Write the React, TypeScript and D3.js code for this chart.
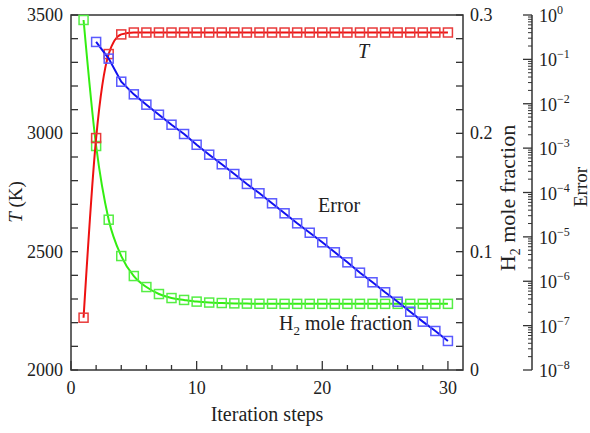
import React, { useEffect, useRef } from 'react';
import * as d3 from 'd3';

// values
const tempSteps = [1, 2, 3, 4, 5, 6, 7, 8, 9, 10, 11, 12, 13, 14, 15, 16, 17, 18, 19, 20, 21, 22, 23, 24, 25, 26, 27, 28, 29, 30];
const tempValues = [2221, 2980, 3335, 3418, 3426, 3426, 3426, 3426, 3426, 3426, 3426, 3426, 3426, 3426, 3426, 3426, 3426, 3426, 3426, 3426, 3426, 3426, 3426, 3426, 3426, 3426, 3426, 3426, 3426, 3426];
const h2Values = [0.2958, 0.1893, 0.127, 0.0963, 0.0794, 0.0701, 0.0642, 0.0608, 0.0592, 0.0578, 0.057, 0.0566, 0.0563, 0.0561, 0.056, 0.056, 0.0559, 0.0559, 0.0559, 0.0559, 0.0559, 0.0559, 0.0559, 0.0559, 0.0559, 0.0559, 0.0559, 0.0559, 0.0559, 0.0559];
const errorSteps = [2, 3, 4, 5, 6, 7, 8, 9, 10, 11, 12, 13, 14, 15, 16, 17, 18, 19, 20, 21, 22, 23, 24, 25, 26, 27, 28, 29, 30];
const errorValues = [2.47e-1, 1.04e-1, 3.14e-2, 1.63e-2, 9.53e-3, 5.66e-3, 3.37e-3, 2.08e-3, 1.19e-3, 7.11e-4, 4.32e-4, 2.61e-4, 1.56e-4, 9.6e-5, 5.71e-5, 3.4e-5, 2.02e-5, 1.24e-5, 7.55e-6, 4.49e-6, 2.67e-6, 1.56e-6, 9.48e-7, 5.64e-7, 3.46e-7, 2.06e-7, 1.23e-7, 7.57e-8, 4.51e-8];

const xTickLabels = [0, 10, 20, 30];
const tTickLabels = [2000, 2500, 3000, 3500];
const h2TickLabels = [0, 0.1, 0.2, 0.3];
const errorExponents = [0, -1, -2, -3, -4, -5, -6, -7, -8];

const FONT = "'Liberation Serif', 'Times New Roman', Times, 'DejaVu Serif', serif";

const App = () => {
  const svgRef = useRef<SVGSVGElement>(null);

  useEffect(() => {
    const svg = d3.select(svgRef.current);
    svg.selectAll('*').remove();

    const left = 71, right = 463, top = 15, bottom = 370;
    const errAxisX = 532;

    const x = d3.scaleLinear().domain([0, 31.2]).range([left, right]);
    const yT = d3.scaleLinear().domain([2000, 3500]).range([bottom, top]);
    const yH2 = d3.scaleLinear().domain([0, 0.3]).range([bottom, top]);
    const yErr = d3.scaleLog().domain([1e-8, 1]).range([bottom, top]);

    const axisColor = '#333';

    // frame
    svg.append('rect')
      .attr('x', left).attr('y', top)
      .attr('width', right - left).attr('height', bottom - top)
      .attr('fill', 'none').attr('stroke', axisColor).attr('stroke-width', 1.5);

    // x ticks (inward)
    d3.range(0, 31, 2).forEach((v) => {
      const major = v % 10 === 0;
      svg.append('line')
        .attr('x1', x(v)).attr('x2', x(v))
        .attr('y1', bottom).attr('y2', bottom - (major ? 9 : 5))
        .attr('stroke', axisColor).attr('stroke-width', 1.3);
    });
    xTickLabels.forEach((v) => {
      svg.append('text')
        .attr('x', x(v)).attr('y', 394)
        .attr('text-anchor', 'middle')
        .attr('font-family', FONT).attr('font-size', 18).attr('fill', '#222')
        .text(v);
    });

    // left T ticks
    d3.range(2000, 3501, 100).forEach((v) => {
      svg.append('line')
        .attr('x1', left).attr('x2', left + 7)
        .attr('y1', yT(v)).attr('y2', yT(v))
        .attr('stroke', axisColor).attr('stroke-width', 1.3);
    });
    tTickLabels.forEach((v) => {
      svg.append('text')
        .attr('x', 63).attr('y', yT(v) + 6)
        .attr('text-anchor', 'end')
        .attr('font-family', FONT).attr('font-size', 18).attr('fill', '#222')
        .text(v);
    });

    // right H2 ticks
    d3.range(0, 0.3001, 0.02).forEach((v) => {
      svg.append('line')
        .attr('x1', right).attr('x2', right - 7)
        .attr('y1', yH2(v)).attr('y2', yH2(v))
        .attr('stroke', axisColor).attr('stroke-width', 1.3);
    });
    h2TickLabels.forEach((v) => {
      svg.append('text')
        .attr('x', 470).attr('y', yH2(v) + 6)
        .attr('font-family', FONT).attr('font-size', 18).attr('fill', '#222')
        .text(v === 0 ? '0' : String(v));
    });

    // error log axis
    svg.append('line')
      .attr('x1', errAxisX).attr('x2', errAxisX)
      .attr('y1', top).attr('y2', bottom)
      .attr('stroke', axisColor).attr('stroke-width', 1.5);
    errorExponents.forEach((e) => {
      const base = Math.pow(10, e);
      svg.append('line')
        .attr('x1', errAxisX).attr('x2', errAxisX - 9)
        .attr('y1', yErr(base)).attr('y2', yErr(base))
        .attr('stroke', axisColor).attr('stroke-width', 1.3);
      if (e > -8) {
        d3.range(2, 10).forEach((m) => {
          svg.append('line')
            .attr('x1', errAxisX).attr('x2', errAxisX - 4)
            .attr('y1', yErr(base * m / 10)).attr('y2', yErr(base * m / 10))
            .attr('stroke', axisColor).attr('stroke-width', 1);
        });
      }
      const t = svg.append('text')
        .attr('x', 539).attr('y', yErr(base) + 7)
        .attr('font-family', FONT).attr('font-size', 18).attr('fill', '#222');
      t.append('tspan').text('10');
      t.append('tspan').attr('dy', -8).attr('font-size', 12)
        .text(e === 0 ? '0' : '\u2212' + Math.abs(e));
    });

    // axis titles
    const tTitle = svg.append('text')
      .attr('transform', 'translate(22,202) rotate(-90)')
      .attr('text-anchor', 'middle')
      .attr('font-family', FONT).attr('font-size', 19).attr('fill', '#222');
    tTitle.append('tspan').attr('font-style', 'italic').text('T');
    tTitle.append('tspan').text(' (K)');

    svg.append('text')
      .attr('x', 267).attr('y', 421)
      .attr('text-anchor', 'middle')
      .attr('font-family', FONT).attr('font-size', 20).attr('fill', '#222')
      .text('Iteration steps');

    const h2Title = svg.append('text')
      .attr('transform', 'translate(515,198) rotate(-90)')
      .attr('text-anchor', 'middle')
      .attr('font-family', FONT).attr('font-size', 22).attr('fill', '#222');
    h2Title.append('tspan').text('H');
    h2Title.append('tspan').attr('dy', 5).attr('font-size', 14).text('2');
    h2Title.append('tspan').attr('dy', -5).text(' mole fraction');

    svg.append('text')
      .attr('transform', 'translate(587,187) rotate(-90)')
      .attr('text-anchor', 'middle')
      .attr('font-family', FONT).attr('font-size', 19).attr('fill', '#222')
      .text('Error');

    // series
    const drawSeries = (xs: number[], ys: number[], yScale: any, line: string, marker: string, curve: any) => {
      const pts = xs.map((v, i) => [x(v), yScale(ys[i])] as [number, number]);
      svg.append('path')
        .attr('d', d3.line().curve(curve)(pts))
        .attr('fill', 'none').attr('stroke', line).attr('stroke-width', 2);
      svg.append('g').selectAll('rect').data(pts).enter().append('rect')
        .attr('x', (d) => d[0] - 4.5).attr('y', (d) => d[1] - 4.5)
        .attr('width', 9).attr('height', 9)
        .attr('fill', 'none').attr('stroke', marker).attr('stroke-width', 1.5);
    };

    drawSeries(tempSteps, h2Values, yH2, '#33ee11', '#55ee44', d3.curveMonotoneX);
    drawSeries(tempSteps, tempValues, yT, '#ee1111', '#e83a3a', d3.curveMonotoneX);
    drawSeries(errorSteps, errorValues, yErr, '#1111ee', '#5a5aff', d3.curveLinear);

    // in-plot labels
    svg.append('text')
      .attr('x', 358).attr('y', 58)
      .attr('font-family', FONT).attr('font-style', 'italic').attr('font-size', 20).attr('fill', '#222')
      .text('T');
    svg.append('text')
      .attr('x', 318).attr('y', 212)
      .attr('font-family', FONT).attr('font-size', 20).attr('fill', '#222')
      .text('Error');
    const h2Label = svg.append('text')
      .attr('x', 279).attr('y', 330)
      .attr('font-family', FONT).attr('font-size', 20).attr('fill', '#222');
    h2Label.append('tspan').text('H');
    h2Label.append('tspan').attr('dy', 5).attr('font-size', 13).text('2');
    h2Label.append('tspan').attr('dy', -5).text(' mole fraction');
  }, []);

  return (
    <svg ref={svgRef} width={590} height={433}
      style={{ position: 'absolute', left: 0, top: 0, background: '#fff' }} />
  );
};

export default App;
